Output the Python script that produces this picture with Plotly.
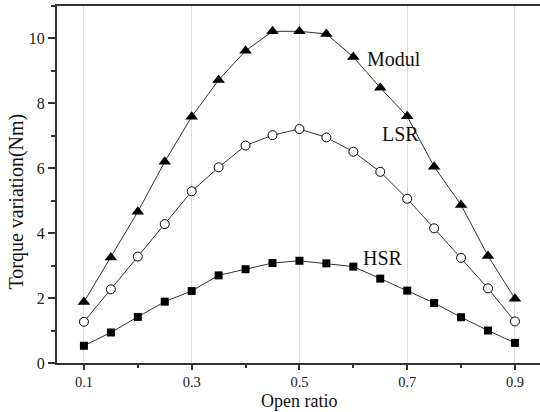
import plotly.graph_objects as go

open_ratio = [0.1, 0.15, 0.2, 0.25, 0.3, 0.35, 0.4, 0.45, 0.5, 0.55, 0.6, 0.65, 0.7, 0.75, 0.8, 0.85, 0.9]
modul = [1.88, 3.25, 4.66, 6.20, 7.59, 8.72, 9.62, 10.22, 10.22, 10.14, 9.43, 8.48, 7.60, 6.05, 4.87, 3.30, 1.98]
lsr = [1.27, 2.27, 3.28, 4.28, 5.29, 6.03, 6.70, 7.02, 7.21, 6.95, 6.51, 5.89, 5.06, 4.15, 3.24, 2.30, 1.28]
hsr = [0.53, 0.94, 1.42, 1.89, 2.22, 2.70, 2.89, 3.08, 3.15, 3.07, 2.97, 2.60, 2.23, 1.85, 1.41, 1.00, 0.62]

labels = ["Modul", "LSR", "HSR"]
label_x = [0.622, 0.649, 0.615]
label_y = [9.36, 7.05, 3.24]

FONT = "Liberation Serif"
fig = go.Figure()
fig.add_trace(go.Scatter(x=open_ratio, y=modul, mode="lines+markers", name="Modul",
                         line=dict(color="#333", width=1),
                         marker=dict(symbol="triangle-up", size=11, color="black")))
fig.add_trace(go.Scatter(x=open_ratio, y=lsr, mode="lines+markers", name="LSR",
                         line=dict(color="#333", width=1),
                         marker=dict(symbol="circle", size=9, color="white",
                                     line=dict(color="black", width=1))))
fig.add_trace(go.Scatter(x=open_ratio, y=hsr, mode="lines+markers", name="HSR",
                         line=dict(color="#333", width=1),
                         marker=dict(symbol="square", size=8, color="black")))

for t, x, y in zip(labels, label_x, label_y):
    fig.add_annotation(x=x, y=y, text=t, showarrow=False, xanchor="left", yanchor="middle",
                       font=dict(family=FONT, size=20, color="#111"))

# axis titles
fig.add_annotation(xref="paper", yref="paper", x=0.501, y=-0.1373, text="Open ratio",
                   showarrow=False, xanchor="center", yanchor="bottom", borderpad=0,
                   font=dict(family=FONT, size=18, color="#111"))
fig.add_annotation(xref="paper", yref="paper", x=-0.083, y=0.452, text="Torque variation(Nm)",
                   showarrow=False, xanchor="center", yanchor="middle", textangle=-90,
                   font=dict(family=FONT, size=20, color="#111"))

fig.update_layout(
    width=540, height=412,
    margin=dict(l=57, r=0, t=6, b=49),
    paper_bgcolor="white", plot_bgcolor="white",
    showlegend=False,
    font=dict(family=FONT, color="#222"),
    xaxis=dict(range=[0.05, 0.9465], tick0=0.1, dtick=0.2, ticks="outside", ticklen=5,
               tickwidth=1.5, tickcolor="#333",
               showline=True, linecolor="#333", linewidth=2, mirror=True,
               showgrid=True, gridcolor="#dcdcdc", gridwidth=1, zeroline=False,
               tickfont=dict(family=FONT, size=14.5, color="#222"),
               minor=dict(dtick=0.1, tick0=0.1, ticks="outside", ticklen=3, tickcolor="#333", showgrid=False)),
    yaxis=dict(range=[0, 11], tick0=0, dtick=2, ticks="outside", ticklen=7,
               tickwidth=1.5, tickcolor="#333",
               showline=True, linecolor="#333", linewidth=2, mirror=False,
               showgrid=False, zeroline=False,
               tickfont=dict(family=FONT, size=16, color="#222"),
               minor=dict(dtick=1, ticks="outside", ticklen=4, tickcolor="#333", showgrid=False)),
)

fig.write_html("out.html")
